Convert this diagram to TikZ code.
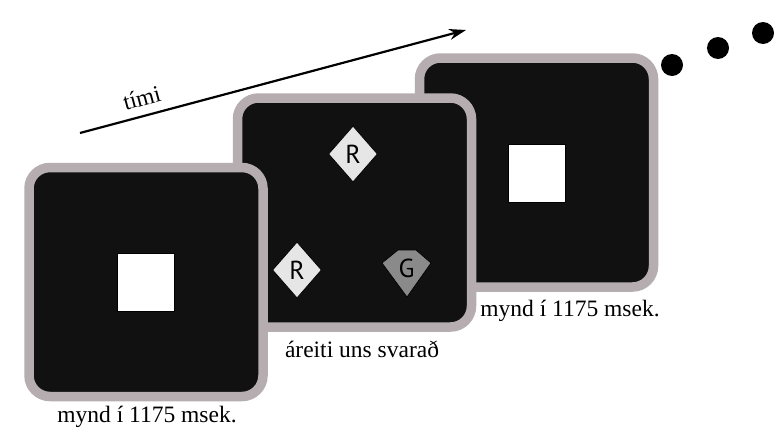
\documentclass[tikz,border=0pt]{standalone}
\usepackage{fontspec}
\setmainfont{Liberation Serif}
\newfontfamily\lettfont{PT Sans}
\usetikzlibrary{shapes.geometric,arrows.meta}
\definecolor{rim}{HTML}{B5ADAF}
\definecolor{screen}{HTML}{111111}
\definecolor{lightcard}{HTML}{E6E6E6}
\definecolor{darkcard}{HTML}{8A8A8A}
\tikzset{
  panel/.style={draw=rim, line width=9.5pt, fill=screen, rounded corners=21pt,
    minimum width=234pt, minimum height=229pt, inner sep=0pt},
  whitesq/.style={draw=black, line width=0.6pt, fill=white, minimum width=57pt,
    minimum height=58pt, inner sep=0pt},
  lett/.style={font=\lettfont\fontsize{26}{30}\selectfont},
  card/.style={diamond, draw=black, line width=0.7pt, fill=lightcard,
    minimum width=49pt, minimum height=56pt, inner sep=0pt, lett},
  caption/.style={font=\fontsize{23.5}{28}\selectfont, inner sep=0pt},
  dotmark/.style={circle, fill=black, minimum size=22pt, inner sep=0pt}
}
\begin{document}
\begin{tikzpicture}[x=1pt,y=-1pt]
\useasboundingbox[fill=white] (0,0) rectangle (777,434);
% time arrow
\coordinate (tA) at (80,133);
\coordinate (tB) at (466,30);
\draw[line width=2.2pt, -{Stealth[length=17pt,width=11pt]}] (tA) -- (tB);
\node[caption, rotate=15, anchor=south] (tlab) at (144,106) {tími};
% panels back to front
\node[panel] (p3) at (536.5,172.5) {};
\node[whitesq] (s3) at (536.5,173) {};
\node[panel] (p2) at (354.5,212.5) {};
\node[card] (r1) at (353,154) {R};
\node[card] (r2) at (297,270) {R};
\path (382,263) coordinate (gL) -- (398,250) coordinate (gTL) -- (416,250) coordinate (gTR)
      -- (431,263) coordinate (gR) -- (407,297) coordinate (gB);
\draw[line width=0.7pt, fill=darkcard] (gL) -- (gTL) -- (gTR) -- (gR) -- (gB) -- cycle;
\node[lett, inner sep=0pt] (g) at (406.5,268) {G};
\node[panel] (p1) at (146,282) {};
\node[whitesq] (s1) at (145.5,282.5) {};
% captions
\node[caption] (c1) at (147,417) {mynd í 1175 msek.};
\node[caption] (c2) at (362,349) {áreiti uns svarað};
\node[caption] (c3) at (570,311) {mynd í 1175 msek.};
% dots
\node[dotmark] (d1) at (672,65) {};
\node[dotmark] (d2) at (718,48) {};
\node[dotmark] (d3) at (763,33) {};
\end{tikzpicture}
\end{document}
